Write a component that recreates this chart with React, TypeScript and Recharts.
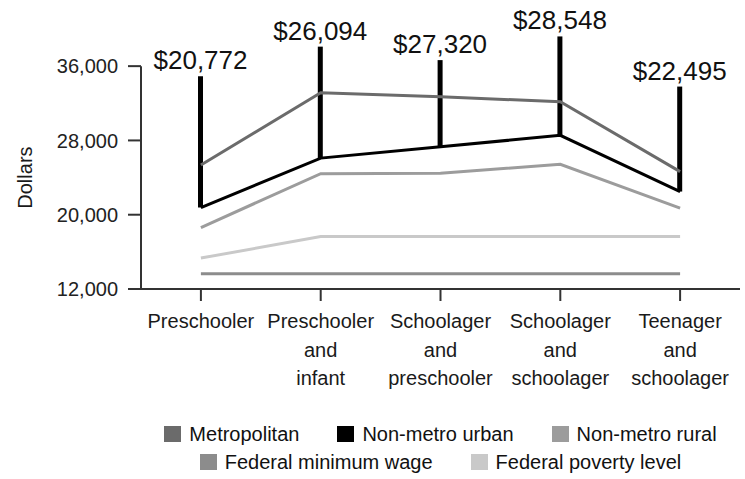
import React from 'react';
import { ComposedChart, Line, Bar, XAxis, YAxis, ReferenceLine, Legend, LabelList } from 'recharts';

const categories = [
  'Preschooler',
  'Preschooler and infant',
  'Schoolager and preschooler',
  'Schoolager and schoolager',
  'Teenager and schoolager',
];
const metropolitan = [25360, 33130, 32700, 32160, 24640];
const nonMetroUrban = [20772, 26094, 27320, 28548, 22495];
const nonMetroRural = [18620, 24420, 24470, 25430, 20700];
const federalMinimumWage = [13650, 13650, 13650, 13650, 13650];
const federalPovertyLevel = [15330, 17650, 17650, 17650, 17650];
// top end of the black marker drawn above each non-metro urban point
const markerTop = [34900, 38100, 36650, 39200, 33800];
const yTicks = [12000, 20000, 28000, 36000];
const yLabel = 'Dollars';

const series = [
  { key: 'metropolitan', name: 'Metropolitan', color: '#6b6b6b' },
  { key: 'urban', name: 'Non-metro urban', color: '#000000' },
  { key: 'rural', name: 'Non-metro rural', color: '#9c9c9c' },
  { key: 'minWage', name: 'Federal minimum wage', color: '#8c8c8c' },
  { key: 'poverty', name: 'Federal poverty level', color: '#c9c9c9' },
];

const data = categories.map((category, i) => ({
  category,
  metropolitan: metropolitan[i],
  urban: nonMetroUrban[i],
  rural: nonMetroRural[i],
  minWage: federalMinimumWage[i],
  poverty: federalPovertyLevel[i],
  span: [nonMetroUrban[i], markerTop[i]],
}));

const FONT = '"Liberation Sans", Arial, Helvetica, sans-serif';
const AXIS = '#333333';

const fmt = (v: number) => v.toLocaleString('en-US');
const fmtDollar = (v: any) => '$' + Number(v).toLocaleString('en-US');

function CategoryTick(props: any) {
  const { x, y, payload } = props;
  const words = String(payload.value).split(' ');
  return (
    <text x={x} y={y} textAnchor="middle" fontSize={20} fill="#1a1a1a" fontFamily={FONT}>
      {words.map((w, i) => (
        <tspan key={i} x={x} dy={i === 0 ? 25 : 28.5}>{w}</tspan>
      ))}
    </text>
  );
}

function AxisTitle(props: any) {
  const vb = props.viewBox || {};
  const x0 = vb.x1 !== undefined ? Math.min(vb.x1, vb.x2) : vb.x;
  const yMid = vb.y1 !== undefined ? (vb.y1 + vb.y2) / 2 : vb.y + vb.height / 2;
  const cx = x0 - 116;
  return (
    <text
      x={cx}
      y={yMid}
      transform={`rotate(-90 ${cx} ${yMid})`}
      textAnchor="middle"
      dominantBaseline="central"
      fontSize={20}
      fill="#1a1a1a"
      fontFamily={FONT}
    >
      {yLabel}
    </text>
  );
}

const legendRows = [series.slice(0, 3), series.slice(3)];

function LegendBox() {
  return (
    <div style={{ width: 745, height: 56, boxSizing: 'border-box', paddingLeft: 136, fontFamily: FONT, fontSize: 20, color: '#111' }}>
      {legendRows.map((row, r) => (
        <div key={r} style={{ display: 'flex', justifyContent: 'center', alignItems: 'center', height: 28 }}>
          {row.map((s) => (
            <div key={s.key} style={{ display: 'flex', alignItems: 'center', margin: '0 19px', whiteSpace: 'nowrap' }}>
              <span style={{ display: 'inline-block', width: 17, height: 16, background: s.color, marginRight: 8 }} />
              <span>{s.name}</span>
            </div>
          ))}
        </div>
      ))}
    </div>
  );
}

export default function App() {
  return (
    <div style={{ position: 'absolute', left: 0, top: 0, width: 745, height: 479, background: '#fff', fontFamily: FONT }}>
      <ComposedChart width={745} height={479} data={data} margin={{ top: 29, right: 5, bottom: 3, left: 0 }}>
        <XAxis
          dataKey="category"
          height={131}
          interval={0}
          tick={<CategoryTick />}
          tickSize={12}
          tickMargin={2}
          tickLine={{ stroke: AXIS, strokeWidth: 2 }}
          axisLine={{ stroke: AXIS, strokeWidth: 2 }}
        />
        <XAxis xAxisId="edge" type="number" domain={[0, 1]} allowDataOverflow hide />
        <YAxis
          type="number"
          width={141}
          domain={[12000, 40000]}
          ticks={yTicks}
          tickFormatter={fmt}
          tickSize={13}
          tickMargin={10}
          tick={{ fontSize: 20, fill: '#222', fontFamily: FONT }}
          tickLine={{ stroke: AXIS, strokeWidth: 2 }}
          axisLine={false}
        />
        <ReferenceLine
          xAxisId="edge"
          segment={[{ x: 0, y: yTicks[0] }, { x: 0, y: yTicks[yTicks.length - 1] }]}
          stroke={AXIS}
          strokeWidth={2}
          ifOverflow="visible"
          label={<AxisTitle />}
        />
        {series.map((s) => (
          <Line
            key={s.key}
            type="linear"
            dataKey={s.key}
            name={s.name}
            stroke={s.color}
            strokeWidth={3}
            dot={false}
            activeDot={false}
            isAnimationActive={false}
          />
        ))}
        <Bar dataKey="span" barSize={5} fill="#000" legendType="none" isAnimationActive={false}>
          <LabelList dataKey="urban" position="top" offset={7} formatter={fmtDollar} fontSize={26} fill="#111" fontFamily={FONT} />
        </Bar>
        <Legend verticalAlign="bottom" wrapperStyle={{ left: 0, width: 745 }} content={() => <LegendBox />} />
      </ComposedChart>
    </div>
  );
}
